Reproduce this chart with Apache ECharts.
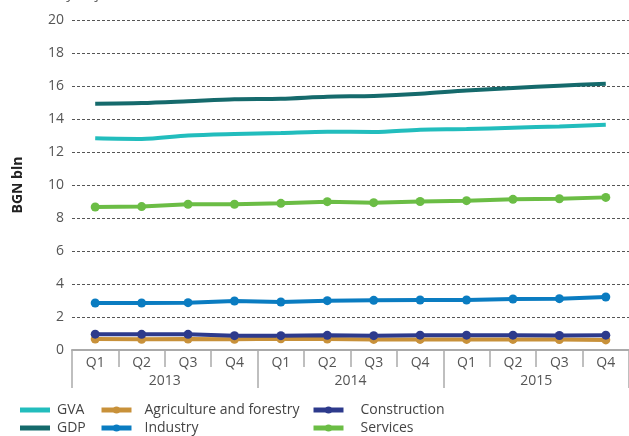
<!DOCTYPE html>
<html>
<head>
<meta charset="utf-8">
<script src="https://cdn.jsdelivr.net/npm/echarts@6/dist/echarts.min.js"></script>
<style>
  html, body { margin: 0; padding: 0; background: #fff; }
  #chart { width: 629px; height: 436px; }
</style>
</head>
<body>
<div id="chart"></div>
<script>
var quarters = ['Q1', 'Q2', 'Q3', 'Q4', 'Q1', 'Q2', 'Q3', 'Q4', 'Q1', 'Q2', 'Q3', 'Q4'];
var years = ['2013', '2014', '2015'];

var gva = [12.83, 12.79, 13.0, 13.09, 13.15, 13.23, 13.21, 13.35, 13.39, 13.47, 13.55, 13.65];
var gdp = [14.93, 14.97, 15.08, 15.2, 15.23, 15.35, 15.4, 15.53, 15.73, 15.88, 16.02, 16.14];
var agriculture = [0.66, 0.65, 0.67, 0.65, 0.68, 0.66, 0.64, 0.64, 0.64, 0.64, 0.63, 0.61];
var industry = [2.85, 2.85, 2.87, 2.97, 2.91, 2.99, 3.01, 3.03, 3.03, 3.09, 3.11, 3.21];
var construction = [0.96, 0.95, 0.95, 0.87, 0.87, 0.89, 0.87, 0.9, 0.9, 0.9, 0.88, 0.9];
var services = [8.67, 8.69, 8.83, 8.83, 8.89, 8.99, 8.93, 9.0, 9.05, 9.13, 9.17, 9.25];

var FONT = '"Open Sans", "Noto Sans", sans-serif';
var BAR_ICON = 'path://M0,0h30v5h-30z';

function lineSeries(name, data, color, withSymbol) {
    return {
        name: name,
        type: 'line',
        data: data,
        symbol: withSymbol ? 'circle' : 'none',
        symbolSize: 9,
        smooth: withSymbol ? false : 0.3,
        itemStyle: { color: color },
        lineStyle: { color: color, width: 4 }
    };
}

function legendAt(left, names, gap) {
    return {
        orient: 'vertical',
        left: left,
        top: 398,
        height: 80,
        itemWidth: 30,
        itemHeight: 9,
        itemGap: 4,
        lineStyle: { width: 5 },
        textStyle: { fontFamily: FONT, fontSize: 14, color: '#444', padding: [0, 0, 0, gap] },
        data: names
    };
}

var myChart = echarts.init(document.getElementById('chart'));
var option = {
    animation: false,
    graphic: [{
        type: 'text',
        left: 0,
        top: -14,
        style: { text: 'Seasonally adjusted data', font: '15px ' + FONT, fill: '#666' }
    }],
    grid: { left: 72, right: 0, top: 20, bottom: 86 },
    legend: [
        legendAt(15, [{ name: 'GVA', icon: BAR_ICON }, { name: 'GDP', icon: BAR_ICON }], 2),
        legendAt(94, ['Agriculture and forestry', 'Industry'], 8),
        legendAt(306, ['Construction', 'Services'], 12)
    ],
    xAxis: [{
        type: 'category',
        data: quarters,
        position: 'bottom',
        boundaryGap: true,
        axisLine: { show: true, lineStyle: { color: '#aaa', width: 2 } },
        axisTick: { show: true, interval: 0, length: 17, lineStyle: { color: '#aaa', width: 1.5 } },
        axisLabel: { interval: 0, margin: 6, fontFamily: FONT, fontSize: 14, color: '#555' }
    }, {
        type: 'category',
        data: years,
        position: 'bottom',
        offset: 0,
        boundaryGap: true,
        axisLine: { show: false },
        axisTick: { show: true, interval: 0, length: 38, lineStyle: { color: '#aaa', width: 1.5 } },
        axisLabel: { interval: 0, margin: 24, fontFamily: FONT, fontSize: 14, color: '#555' }
    }],
    yAxis: {
        type: 'value',
        min: 0,
        max: 20,
        interval: 2,
        name: 'BGN bln',
        nameLocation: 'middle',
        nameGap: 47,
        nameTextStyle: { fontFamily: FONT, fontSize: 14, fontWeight: 'bold', color: '#222' },
        axisLine: { show: false },
        axisTick: { show: false },
        axisLabel: { margin: 8, fontFamily: FONT, fontSize: 14, color: '#555' },
        splitLine: { lineStyle: { type: [3, 2], color: '#555', width: 1 } }
    },
    series: [
        lineSeries('GVA', gva, '#22bdbd', false),
        lineSeries('GDP', gdp, '#156a6c', false),
        lineSeries('Agriculture and forestry', agriculture, '#c8913a', true),
        lineSeries('Industry', industry, '#0a7cc1', true),
        lineSeries('Construction', construction, '#2d3a8c', true),
        lineSeries('Services', services, '#6bbd45', true)
    ]
};
myChart.setOption(option);
</script>
</body>
</html>
